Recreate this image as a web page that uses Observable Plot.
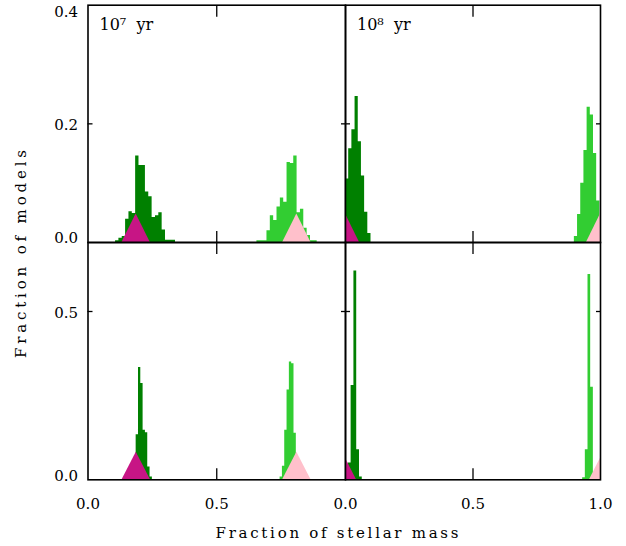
<!DOCTYPE html>
<html><head><meta charset="utf-8">
<script src="https://cdn.jsdelivr.net/npm/d3@7"></script>
<script src="https://cdn.jsdelivr.net/npm/@observablehq/plot@0.6"></script>
<style>
body{margin:0;background:#fff;}
#chart{position:relative;width:626px;height:546px;}
#chart svg{position:absolute;left:0;top:0;}
</style></head><body><div id="chart"></div>
<script>
// ---- data ----
const ageLabels = ["10\u2077  yr", "10\u2078  yr"];
const xTickLabels = [[0, 0.5], [0, 0.5, 1]];
const yTickLabels = [[0, 0.2, 0.4], [0, 0.5]];
const yInnerTicks = [[0.2], [0.5]];
const yMax = [0.4, 0.705];

// top-left (10^7 yr), dark green
const tlDarkLeft = [0.107,0.120,0.133,0.146,0.159,0.172,0.185,0.198,0.210,0.223,0.236,0.249,0.262,0.275,0.288,0.301,0.314,0.327];
const tlDarkH    = [0.003,0.007,0.010,0.039,0.052,0.049,0.146,0.130,0.130,0.085,0.077,0.042,0.045,0.050,0.021,0.004,0.004,0.004];
const tlDarkW = 0.0129;
// top-left, light green
const tlLightLeft = [0.656,0.669,0.682,0.695,0.708,0.721,0.734,0.747,0.760,0.773,0.786,0.799,0.812,0.825,0.838,0.851,0.864,0.877];
const tlLightH    = [0.003,0.003,0.003,0.020,0.045,0.037,0.060,0.075,0.068,0.135,0.133,0.146,0.050,0.056,0.024,0.012,0.003,0.003];
const tlLightW = 0.013;
// top-right (10^8 yr)
const trDarkLeft = [0,0.0125,0.025,0.0375,0.05,0.0625,0.075,0.0875];
const trDarkH    = [0.107,0.158,0.190,0.246,0.170,0.112,0.051,0.015];
const trDarkW = 0.0125;
const trLightLeft = [0.8975,0.91,0.9225,0.935,0.9475,0.96,0.9725,0.985];
const trLightH    = [0.010,0.047,0.100,0.155,0.228,0.215,0.150,0.070];
const trLightW = 0.0125;
// bottom-left
const blDarkLeft = [0.178,0.187,0.196,0.205,0.214,0.223,0.232,0.241];
const blDarkH    = [0.030,0.134,0.334,0.286,0.147,0.140,0.038,0.008];
const blDarkW = 0.009;
const blLightLeft = [0.746,0.755,0.764,0.773,0.782,0.791,0.800,0.809];
const blLightH    = [0.008,0.040,0.147,0.267,0.350,0.345,0.138,0.040];
const blLightW = 0.009;
// bottom-right
const brDarkLeft = [0.011,0.022,0.033,0.044,0.055];
const brDarkH    = [0.050,0.280,0.620,0.089,0.008];
const brDarkW = 0.0108;
const brLightLeft = [0.930,0.9405,0.951,0.9615,0.972];
const brLightH    = [0.006,0.089,0.610,0.275,0.020];
const brLightW = 0.0105;

// triangles: centre, height, half-width
const triCentres = [[0.187, 0.811], [0.0, 1.0], [0.1875, 0.811], [-0.012, 1.012]];
const triHeight = [0.048, 0.082];
const triHalfWidth = 0.055;

const darkGreen = "#008000", lightGreen = "#32CD32", magenta = "#C71585", pink = "#FFC0CB";

// ---- layout ----
const W = 626, H = 546;
const colX = [[87.5, 345], [345, 600]];
const rowY = [[4.7, 242], [242, 479.3]];
const font = "'DejaVu Serif', serif";

function steps(left, h, w, color, id) {
  const pts = left.map((x, i) => ({x, y: h[i], color, id}));
  pts.push({x: left[left.length - 1] + w, y: h[h.length - 1], color, id});
  return pts;
}
function triangle(c, h, color, id) {
  return [{x: c - triHalfWidth, y: 0, color, id}, {x: c, y: h, color, id}, {x: c + triHalfWidth, y: 0, color, id}];
}

const panels = [
  {r: 0, c: 0, hist: [...steps(tlDarkLeft, tlDarkH, tlDarkW, darkGreen, "d"), ...steps(tlLightLeft, tlLightH, tlLightW, lightGreen, "l")]},
  {r: 0, c: 1, hist: [...steps(trDarkLeft, trDarkH, trDarkW, darkGreen, "d"), ...steps(trLightLeft, trLightH, trLightW, lightGreen, "l")]},
  {r: 1, c: 0, hist: [...steps(blDarkLeft, blDarkH, blDarkW, darkGreen, "d"), ...steps(blLightLeft, blLightH, blLightW, lightGreen, "l")]},
  {r: 1, c: 1, hist: [...steps(brDarkLeft, brDarkH, brDarkW, darkGreen, "d"), ...steps(brLightLeft, brLightH, brLightW, lightGreen, "l")]}
];

const chart = document.getElementById("chart");
panels.forEach((p, k) => {
  const [x0, x1] = colX[p.c], [y0, y1] = rowY[p.r];
  const tris = [...triangle(triCentres[k][0], triHeight[p.r], magenta, "a"), ...triangle(triCentres[k][1], triHeight[p.r], pink, "b")];
  const labs = yTickLabels[p.r];
  const marks = [
    Plot.areaY(p.hist, {x: "x", y: "y", z: "id", fill: "color", curve: "step-after", clip: true}),
    Plot.areaY(tris, {x: "x", y: "y", z: "id", fill: "color", clip: true}),
    Plot.axisX({anchor: "top", ticks: [0.5], tickSize: -11, tickFormat: () => "", label: null, strokeWidth: 1.3}),
    Plot.axisX({anchor: "bottom", ticks: [0.5], tickSize: -11, tickFormat: () => "", label: null, strokeWidth: 1.3}),
    Plot.axisY({anchor: "left", ticks: yInnerTicks[p.r], tickSize: -5, tickFormat: () => "", label: null, strokeWidth: 1.3}),
    Plot.axisY({anchor: "right", ticks: yInnerTicks[p.r], tickSize: -5, tickFormat: () => "", label: null, strokeWidth: 1.3}),
    Plot.frame({stroke: "black", strokeWidth: 1.6})
  ];
  if (p.r === 1) marks.push(Plot.axisX({anchor: "bottom", ticks: xTickLabels[p.c], tickSize: 0, tickPadding: 19, tickFormat: d => d.toFixed(1), label: null, fontSize: 15}));
  if (p.c === 0) {
    const common = {y: d => d, text: d => d.toFixed(1), frameAnchor: "left", dx: -10, textAnchor: "end", fontSize: 15};
    marks.push(Plot.text(labs.filter(v => v === 0), {...common, dy: -4}));
    marks.push(Plot.text(labs.filter(v => v > 0 && v < yMax[p.r]), {...common, dy: 1.5}));
    marks.push(Plot.text(labs.filter(v => v >= yMax[p.r]), {...common, dy: 7}));
  }
  if (p.r === 0) marks.push(Plot.text([ageLabels[p.c]], {frameAnchor: "top-left", dx: 11.5, dy: 13, fontSize: 16, textAnchor: "start"}));
  const svg = Plot.plot({
    width: W, height: H,
    marginLeft: x0, marginRight: W - x1, marginTop: y0, marginBottom: H - y1,
    x: {domain: [0, 1]},
    y: {domain: [0, yMax[p.r]]},
    style: {background: "transparent", fontFamily: font, fontSize: "15px", color: "black", overflow: "visible"},
    marks
  });
  chart.appendChild(svg);
});

// axis titles
const overlay = d3.select(chart).append("svg").attr("width", W).attr("height", H)
  .style("font-family", font).style("pointer-events", "none");
overlay.append("text").attr("x", 337).attr("y", 538).attr("text-anchor", "middle")
  .attr("font-size", 15).attr("textLength", 243).attr("lengthAdjust", "spacing")
  .text("Fraction of stellar mass");
overlay.append("text").attr("transform", "translate(26,254) rotate(-90)").attr("text-anchor", "middle")
  .attr("font-size", 15).attr("textLength", 208).attr("lengthAdjust", "spacing")
  .text("Fraction of models");
</script></body></html>
